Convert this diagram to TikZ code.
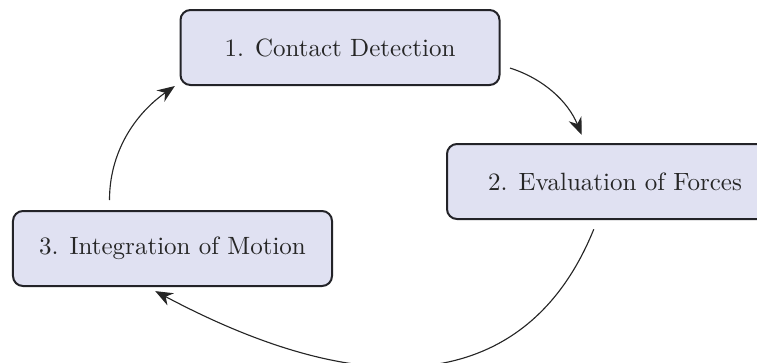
\documentclass[tikz,border=0pt]{standalone}
\usetikzlibrary{arrows.meta}
\definecolor{boxfill}{RGB}{224,225,242}
\definecolor{boxline}{RGB}{35,35,40}

\begin{document}
\begin{tikzpicture}[x=0.4pt,y=0.4pt,
  stage/.style={draw=boxline,fill=boxfill,line width=0.8pt,rounded corners=4pt,
    minimum width=127.6pt,minimum height=30pt,text=black!85},
  cycle/.style={-{Stealth[length=7pt,width=5.5pt]},draw=black!85,line width=0.45pt,
    shorten <=4pt,shorten >=3.5pt}]
  \useasboundingbox (0,0) rectangle (757,362);

  % the three stages
  \node[stage] (contact) at (340,314.5) {1. Contact Detection};
  \node[stage,minimum width=134.4pt] (forces) at (615,180.5) {2. Evaluation of Forces};
  \node[stage] (motion) at (172.5,113.5) {3. Integration of Motion};

  % the loop
  \draw[cycle] ([yshift=-7pt]contact.east) to[bend left=25] ([xshift=-12pt]forces.north);
  \draw[cycle] ([xshift=-7pt]forces.south) .. controls +(248:68pt) and +(-28:110pt) .. ([xshift=-10pt]motion.south);
  \draw[cycle] ([xshift=-25.2pt]motion.north) to[out=90,in=215] ([xshift=1pt,yshift=2pt]contact.south west);
\end{tikzpicture}
\end{document}
